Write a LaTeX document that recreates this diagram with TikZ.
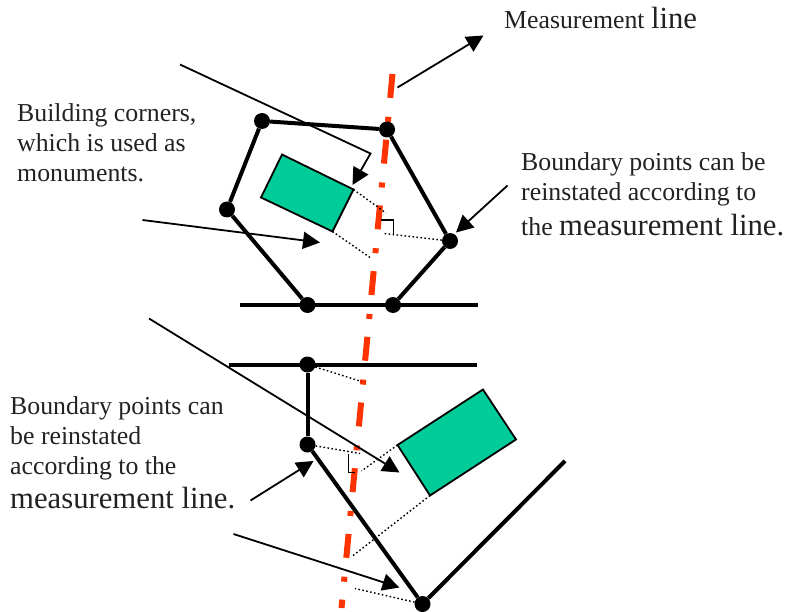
\documentclass[tikz,border=0pt]{standalone}
\usepackage{fontspec}
\setmainfont{Liberation Serif}
\usetikzlibrary{arrows.meta}
\definecolor{plotgreen}{HTML}{00CC99}
\definecolor{surveyred}{HTML}{FF3300}
\definecolor{inkgrey}{HTML}{222222}
\newcommand{\biglabel}[1]{{\fontsize{30.7}{30}\selectfont #1}}

\begin{document}
\begin{tikzpicture}[x=1pt, y=-1pt,
  pt/.style={circle, fill=black, inner sep=0pt, minimum size=16pt},
  txt/.style={anchor=north west, inner sep=0pt, align=left, text=inkgrey,
              font=\fontsize{25.8}{30}\selectfont},
  bound/.style={line width=4pt, draw=black},
  house/.style={draw=black, line width=1.8pt, fill=plotgreen},
  arr/.style={-{Triangle[length=17pt, width=17pt]}, line width=1.8pt, draw=black},
  lnk/.style={line width=1.4pt, draw=black, dash pattern=on 1.6pt off 2.4pt},
  sq/.style={line width=1.4pt, draw=black},
  mline/.style={line width=6pt, draw=surveyred, dash pattern=on 24pt off 19pt on 5pt off 18pt}]
  \useasboundingbox (0,0) rectangle (786,612);
  % measurement line
  \coordinate (mtop) at (392.5,74);
  \coordinate (mbot) at (341.5,608);
  \draw[mline] (mtop) -- (mbot);

  % upper parcel
  \node[pt] (p1) at (262,121) {};
  \node[pt] (p2) at (387,129.5) {};
  \node[pt] (p3) at (450,241) {};
  \node[pt] (p4) at (393,305) {};
  \node[pt] (p5) at (307.5,305) {};
  \node[pt] (p6) at (227,209.5) {};
  \coordinate (roadAw) at (240,305);
  \coordinate (roadAe) at (478,305);
  \draw[bound] (p1) -- (p2);
  \draw[bound] (p2) -- (p3);
  \draw[bound] (p3) -- (p4);
  \draw[bound] (p5) -- (p6);
  \draw[bound] (p6) -- (p1);
  \draw[bound] (roadAw) -- (roadAe);
  \coordinate (hA1) at (282,154.5);
  \coordinate (hA2) at (353.5,189.5);
  \coordinate (hA3) at (332.5,231.5);
  \coordinate (hA4) at (261,197.5);
  \draw[house] (hA1) -- (hA2) -- (hA3) -- (hA4) -- cycle;
  \coordinate (fA1) at (386,213);
  \coordinate (fA2) at (371.5,258.5);
  \coordinate (fA3) at (384,233.5);
  \draw[lnk] (hA2) -- (fA1);
  \draw[lnk] (hA3) -- (fA2);
  \draw[lnk] (p3) -- (fA3);
  \coordinate (sqA1) at (380.5,220);
  \coordinate (sqA2) at (393.5,220);
  \coordinate (sqA3) at (393.5,235);
  \draw[sq] (sqA1) -- (sqA2) -- (sqA3);

  % lower parcel
  \node[pt] (q1) at (307.5,364.5) {};
  \node[pt] (q2) at (307.5,444.5) {};
  \node[pt] (q3) at (422.5,604) {};
  \coordinate (roadBw) at (229,364.5);
  \coordinate (roadBe) at (476.5,364.5);
  \coordinate (fence) at (565,461);
  \draw[bound] (roadBw) -- (roadBe);
  \draw[bound] (q1) -- (q2);
  \draw[bound] (q2) -- (q3);
  \draw[bound] (q3) -- (fence);
  \coordinate (hB1) at (483,389.5);
  \coordinate (hB2) at (516,439.5);
  \coordinate (hB3) at (430,495.5);
  \coordinate (hB4) at (397.5,445);
  \draw[house] (hB1) -- (hB2) -- (hB3) -- (hB4) -- cycle;
  \coordinate (fB1) at (361.5,381.5);
  \coordinate (fB2) at (360,453.5);
  \coordinate (fB3) at (361.5,471);
  \coordinate (fB4) at (352.5,556);
  \coordinate (fB5) at (355,588.5);
  \draw[lnk] (q1) -- (fB1);
  \draw[lnk] (q2) -- (fB2);
  \draw[lnk] (hB4) -- (fB3);
  \draw[lnk] (hB3) -- (fB4);
  \draw[lnk] (q3) -- (fB5);
  \coordinate (sqB1) at (348.5,453.5);
  \coordinate (sqB2) at (348.5,472.5);
  \coordinate (sqB3) at (355,472.5);
  \draw[sq] (sqB1) -- (sqB2) -- (sqB3);

  % labels
  \node[txt] (title) at (504,7.5) {Measurement \biglabel{line}};
  \node[txt] (corners) at (17,103.5) {Building corners,\\which is used as\\monuments.};
  \node[txt] (bpA) at (521,152.5) {Boundary points can be\\reinstated according to\\[4.5pt]the \biglabel{measurement line.}};
  \node[txt] (bpB) at (10,396.5) {Boundary points can\\be reinstated\\according to the\\[4pt]\biglabel{measurement line.}};

  % arrows
  \coordinate (a1s) at (397.5,87.5);
  \coordinate (a1e) at (483.5,35.5);
  \draw[arr] (a1s) -- (a1e);
  \coordinate (a2s) at (180,64.5);
  \coordinate (a2m) at (370.5,153.5);
  \coordinate (a2e) at (352.5,185);
  \draw[arr] (a2s) -- (a2m) -- (a2e);
  \coordinate (a3s) at (142.5,220);
  \coordinate (a3e) at (320,242.5);
  \draw[arr] (a3s) -- (a3e);
  \coordinate (a4s) at (507.5,185.5);
  \coordinate (a4e) at (456,232.5);
  \draw[arr] (a4s) -- (a4e);
  \coordinate (a5s) at (149,318.5);
  \coordinate (a5e) at (399.5,472.5);
  \draw[arr] (a5s) -- (a5e);
  \coordinate (a6s) at (250.5,500.5);
  \coordinate (a6e) at (313.5,461);
  \draw[arr] (a6s) -- (a6e);
  \coordinate (a7s) at (233.5,534);
  \coordinate (a7e) at (399.5,587.5);
  \draw[arr] (a7s) -- (a7e);
\end{tikzpicture}
\end{document}
